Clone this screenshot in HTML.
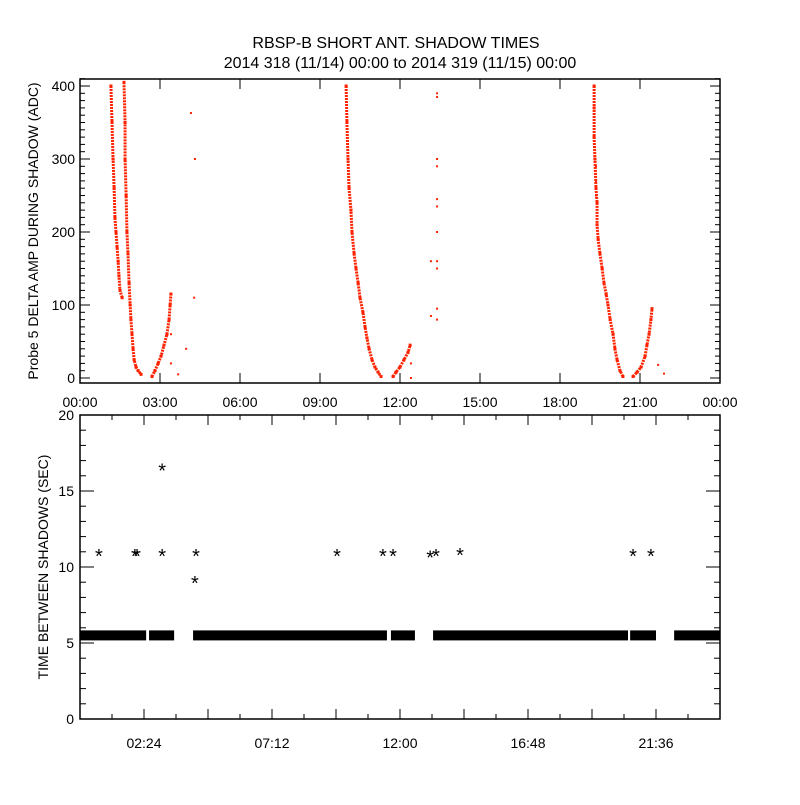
<!DOCTYPE html>
<html><head><meta charset="utf-8"><style>
body{margin:0;background:#fff;}
svg text{font-family:"Liberation Sans",sans-serif;fill:#000;}
</style></head><body>
<svg id="chart" width="800" height="800" xmlns="http://www.w3.org/2000/svg">
<rect width="800" height="800" fill="#fff"/>
<text x="396" y="48" font-size="16" text-anchor="middle">RBSP-B SHORT ANT. SHADOW TIMES</text>
<text x="400" y="68" font-size="16" text-anchor="middle">2014 318 (11/14) 00:00 to 2014 319 (11/15) 00:00</text>
<g id="top"></g><g id="bot"></g>
</svg>
<script>
// ---- top panel data (hours, ADC) ----
const strandA = [[1.16,400],[1.2,350],[1.24,300],[1.28,260],[1.31,220],[1.35,200],[1.39,180],[1.43,160],[1.46,140],[1.5,120],[1.58,110]];
const strandB = [[1.65,405],[1.69,350],[1.69,300],[1.73,250],[1.76,200],[1.8,170],[1.84,130],[1.88,100],[1.91,80],[1.95,60],[1.99,40],[2.03,25],[2.1,15],[2.18,10],[2.29,5]];
const strandC = [[2.7,2],[2.81,10],[2.93,20],[3.04,30],[3.15,45],[3.26,60],[3.34,80],[3.38,100],[3.41,115]];
const strandD = [[9.98,400],[10.01,350],[10.05,300],[10.09,260],[10.16,230],[10.2,200],[10.28,170],[10.35,150],[10.43,130],[10.5,110],[10.61,90],[10.69,70],[10.76,55],[10.84,40],[10.95,25],[11.06,15],[11.18,8],[11.29,2]];
const strandE = [[11.74,2],[11.85,8],[12.0,15],[12.15,25],[12.3,35],[12.38,45]];
const strandF = [[19.28,400],[19.28,370],[19.28,330],[19.31,300],[19.35,260],[19.39,240],[19.39,210],[19.43,190],[19.5,170],[19.58,150],[19.65,130],[19.73,115],[19.8,100],[19.88,80],[19.99,60],[20.06,40],[20.14,25],[20.25,10],[20.36,2]];
const strandG = [[20.74,2],[20.89,8],[21.04,15],[21.19,30],[21.26,45],[21.34,60],[21.41,80],[21.45,95]];
const strays = [[3.41,20],[3.41,60],[4.16,363],[4.31,300],[4.28,110],[3.98,40],[3.68,5],[12.41,0],[12.41,20],[13.16,160],[13.16,85],[13.39,390],[13.39,385],[13.39,300],[13.39,290],[13.39,245],[13.39,235],[13.39,200],[13.39,160],[13.39,150],[13.39,95],[13.39,80],[19.35,290],[19.35,270],[19.35,250],[21.68,18],[21.9,6]];
// ---- bottom panel data ----
const barSegs = [[0,2.48],[2.59,3.53],[4.24,11.51],[11.66,12.56],[13.24,20.55],[20.63,21.6],[22.28,24]];
const barValue = 5.5;
const stars = [[0.71,10.8],[2.06,10.8],[2.14,10.8],[3.08,16.4],[3.08,10.8],[4.35,10.8],[4.31,9.0],[9.64,10.8],[11.36,10.8],[11.74,10.8],[13.13,10.7],[13.35,10.8],[14.25,10.85],[20.74,10.8],[21.41,10.8]];
const topYTicks = [0,100,200,300,400];
const topXLabels = ["00:00","03:00","06:00","09:00","12:00","15:00","18:00","21:00","00:00"];
const botYTicks = [0,5,10,15,20];
const botXLabels = ["02:24","07:12","12:00","16:48","21:36"];

const NS="http://www.w3.org/2000/svg";
function mk(p,t,a){const e=document.createElementNS(NS,t);for(const k in a)e.setAttribute(k,a[k]);p.appendChild(e);return e;}
const L=80,R=720;
const xs=h=>L+(R-L)*h/24;
// top
const T=document.getElementById('top');
const tTop=79,tBot=383,yT=v=>378-0.73*v;
const tf=mk(T,'rect',{x:L,y:tTop,width:R-L,height:tBot-tTop,fill:'none',stroke:'#000','stroke-width':1.5});


for(let v=0;v<=410;v+=10){const y=yT(v);const len=v%100===0?10:5;
 mk(T,'line',{x1:L,x2:L+len,y1:y,y2:y,stroke:'#000'});mk(T,'line',{x1:R,x2:R-len,y1:y,y2:y,stroke:'#000'});}
topYTicks.forEach(v=>{const t=mk(T,'text',{x:L-5,y:yT(v)+5,'font-size':14,'text-anchor':'end'});t.textContent=v;
 
 });
topXLabels.forEach((s,i)=>{const x=xs(i*3);mk(T,'line',{x1:x,x2:x,y1:tBot,y2:tBot-10,stroke:'#000'});mk(T,'line',{x1:x,x2:x,y1:tTop,y2:tTop+10,stroke:'#000'});
 const t=mk(T,'text',{x:x,y:407,'font-size':14,'text-anchor':'middle'});t.textContent=s;
 
 });
const ty=mk(T,'text',{x:0,y:0,'font-size':14,'text-anchor':'middle',transform:'translate(38,231) rotate(-90)'});ty.textContent='Probe 5 DELTA AMP DURING SHADOW (ADC)';


[strandA,strandB,strandC,strandD,strandE,strandF,strandG].forEach((s,i)=>{
 const pl=mk(T,'polyline',{points:s.map(p=>xs(p[0])+','+yT(p[1])).join(' '),fill:'none',stroke:'#ff2200','stroke-width':3,'stroke-dasharray':'2 1'});
 
 
 s.forEach(p=>{const r=mk(T,'rect',{x:xs(p[0])-1.5,y:yT(p[1])-1.5,width:3,height:3,fill:'#ff2200'});
  
  });
});
strays.forEach(p=>{const r=mk(T,'rect',{x:xs(p[0])-1,y:yT(p[1])-1,width:2,height:2,fill:'#ff2200'});
 
 });
// bottom
const B=document.getElementById('bot');
const bTop=415,bBot=719,yB=v=>bBot-(bBot-bTop)*v/20;
const bf=mk(B,'rect',{x:L,y:bTop,width:R-L,height:bBot-bTop,fill:'none',stroke:'#000','stroke-width':1.5});


for(let v=0;v<=20;v++){const y=yB(v);const len=v%5===0?14:6;
 mk(B,'line',{x1:L,x2:L+len,y1:y,y2:y,stroke:'#000'});mk(B,'line',{x1:R,x2:R-len,y1:y,y2:y,stroke:'#000'});}
botYTicks.forEach(v=>{const t=mk(B,'text',{x:L-6,y:yB(v)+5,'font-size':14,'text-anchor':'end'});t.textContent=v;
 
 });
for(let i=0;i<=20;i++){const x=xs(i*1.2);const len=i%2===0?10:5;
 mk(B,'line',{x1:x,x2:x,y1:bBot,y2:bBot-len,stroke:'#000'});mk(B,'line',{x1:x,x2:x,y1:bTop,y2:bTop+len,stroke:'#000'});}
botXLabels.forEach((s,i)=>{const t=mk(B,'text',{x:xs(2.4+i*4.8),y:748,'font-size':14,'text-anchor':'middle'});t.textContent=s;
 
 });
const by=mk(B,'text',{x:0,y:0,'font-size':14,'text-anchor':'middle',transform:'translate(48,567) rotate(-90)'});by.textContent='TIME BETWEEN SHADOWS (SEC)';


barSegs.forEach(s=>{const r=mk(B,'rect',{x:xs(s[0]),y:yB(barValue)-5,width:xs(s[1])-xs(s[0]),height:10,fill:'#000'});
 
 });
stars.forEach(p=>{const t=mk(B,'text',{x:xs(p[0]),y:yB(p[1])+8,'font-size':20,'text-anchor':'middle'});t.textContent='*';
 
 });
</script>
</body></html>
